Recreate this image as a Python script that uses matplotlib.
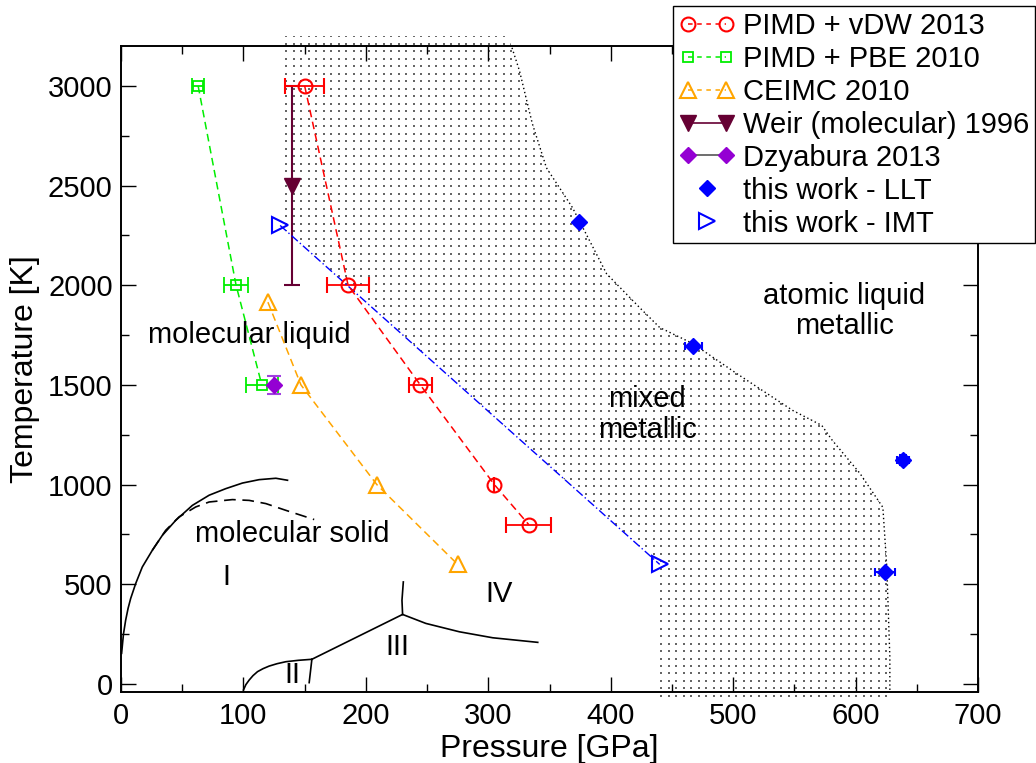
import numpy as np
import matplotlib
matplotlib.use("Agg")
import matplotlib.pyplot as plt
from matplotlib.lines import Line2D
from matplotlib.patches import Polygon
from matplotlib.legend_handler import HandlerLine2D
from matplotlib.ticker import MultipleLocator

plt.rcParams["font.family"] = ["Liberation Sans", "DejaVu Sans"]

# ---- data -------------------------------------------------------------
# PIMD + vdW 2013
vdw_p = [150, 185.5, 244.5, 305, 333]
vdw_t = [3000, 2000, 1500, 1000, 800]
vdw_perr = [16, 17, 9.5, 0, 18.5]

# PIMD + PBE 2010
pbe_p = [63, 94, 115]
pbe_t = [3000, 2000, 1500]
pbe_perr = [5, 10, 13]

# CEIMC 2010
ceimc_p = [120, 147, 209, 275]
ceimc_t = [1915, 1500, 1000, 600]

# Weir (molecular) 1996
weir_p = [140]
weir_t = [2500]
weir_terr = [500]

# Dzyabura 2013
dzy_p = [125]
dzy_t = [1500]
dzy_terr = [45]

# this work - LLT
llt_p = [374.5, 467.5, 638.5, 624]
llt_t = [2319, 1693, 1122, 561]
llt_perr = [3, 7, 5, 8]
llt_terr = [0, 0, 25, 0]

# this work - IMT
imt_p = [130, 440]
imt_t = [2300, 600]

# right edge of the mixed metallic region
bnd_p = [316, 318.9, 325.5, 336, 347.5, 368.8, 382.7, 396.6, 423.6, 440, 466.9,
         502.7, 548.7, 572.4, 581, 603.5, 622.3, 625.5, 628, 628]
bnd_t = [3250, 3200, 3075, 2810, 2589, 2389, 2224, 2058, 1888, 1788, 1708,
         1558, 1372, 1297, 1222, 1057, 886, 586, 135, -100]

# melting line (solid) and its dashed variant
melt_p = [0.5, 2.0, 3.8, 5.8, 7.9, 12, 17.4, 25.6, 33.8, 44.7, 58.3, 72, 85.6,
          99.2, 112.8, 126.5, 136]
melt_t = [154, 250, 320, 380, 429, 504, 587, 671, 746, 821, 896, 947, 980,
          1008, 1025, 1032, 1022]
melt2_p = [25.6, 36.5, 47.4, 61, 72, 91, 104.7, 118.3, 134.7, 157.8]
melt2_t = [671, 771, 838, 888, 913, 925, 921, 905, 871, 825]

# solid phase boundaries
b_II_p = [100, 102, 104.7, 107.8, 111.5, 116, 121, 127.5, 134.7, 145, 155.9]
b_II_t = [-30, -3, 20, 42, 62, 77, 90, 102, 112, 119, 124]
b_II_III_p = [155.9, 153.7]
b_II_III_t = [124, 7]
b_III_p = [155.9, 230]
b_III_t = [124, 349]
b_I_IV_p = [230, 229.5, 230.6]
b_I_IV_t = [349, 420, 512]
b_III_IV_p = [230, 249, 276.4, 303.6, 340.4]
b_III_IV_t = [349, 304, 262, 232, 209]

# ---- figure -----------------------------------------------------------
fig = plt.figure(figsize=(10.36, 7.63), dpi=100)
ax = fig.add_axes([121 / 1036, 1 - 692 / 763, (978 - 121) / 1036, (692 - 46) / 763])
ax.set_xlim(0, 700)
ax.set_ylim(-40, 3200)

# stippled mixed-metallic region
region = Polygon(
    [(130, 3250), (imt_p[0], imt_t[0]), (imt_p[1], imt_t[1]), (440, -100)]
    + list(zip(bnd_p[::-1], bnd_t[::-1])),
    closed=True, facecolor="none", edgecolor="none", transform=ax.transData)
ax.add_patch(region)
gx = np.arange(0, 700, 6.13)
gy = np.arange(-60, 3250, 37.6)
GX, GY = np.meshgrid(gx, gy)
dots = ax.scatter(GX.ravel(), GY.ravel(), s=0.6, marker="s", c="#666666",
                  linewidths=0, zorder=1)
dots.set_clip_path(region)
ax.plot(bnd_p, bnd_t, color="black", ls=(0, (1, 2)), lw=1.0, zorder=2)

# phase lines of the solid
ax.plot(melt_p, melt_t, color="black", lw=1.2, zorder=2)
ax.plot(melt2_p, melt2_t, color="black", lw=1.2, dashes=(7, 4), zorder=2)
for bp, bt in [(b_II_p, b_II_t), (b_II_III_p, b_II_III_t), (b_III_p, b_III_t),
               (b_I_IV_p, b_I_IV_t), (b_III_IV_p, b_III_IV_t)]:
    ax.plot(bp, bt, color="black", lw=1.2, zorder=2)

RED = "#ff0000"
GREEN = "#00ee00"
ORANGE = "#ffa500"
MAROON = "#660033"
PURPLE = "#9400d3"
BLUE = "#0000ff"

ax.errorbar(vdw_p, vdw_t, xerr=vdw_perr, color=RED, ls=(0, (5, 3)), lw=1.1,
            marker="o", ms=10, mfc="none", mec=RED, mew=1.5, elinewidth=1.3,
            capsize=5.5, capthick=1.3, zorder=5)
ax.errorbar(pbe_p, pbe_t, xerr=pbe_perr, color=GREEN, ls=(0, (5, 3)), lw=1.1,
            marker="s", ms=7, mfc="none", mec=GREEN, mew=1.3, elinewidth=1.3,
            capsize=5.5, capthick=1.3, zorder=5)
ax.plot(ceimc_p, ceimc_t, color=ORANGE, ls=(0, (5, 3)), lw=1.1, marker="^",
        ms=11, mfc="none", mec=ORANGE, mew=1.5, zorder=5)
ax.errorbar(weir_p, weir_t, yerr=weir_terr, color=MAROON, ls="none",
            marker="v", ms=12, elinewidth=1.5, capsize=5.5, capthick=1.5, zorder=4)
ax.errorbar(dzy_p, dzy_t, yerr=dzy_terr, color=PURPLE, ls="none",
            marker="D", ms=8, ecolor="#a040e0", elinewidth=1.5, capsize=5,
            capthick=1.5, zorder=6)
ax.plot(imt_p, imt_t, color=BLUE, ls=(0, (6, 2, 1, 2)), lw=1.0, marker=">",
        ms=11.5, mfc="none", mec=BLUE, mew=1.5, zorder=5)
ax.errorbar(llt_p, llt_t, xerr=llt_perr, yerr=llt_terr, color=BLUE, ls="none",
            marker="D", ms=8, elinewidth=1.5, capsize=3, capthick=1.5, zorder=5)

# region labels
FS = 21
ax.text(104.7, 1708, "molecular liquid", fontsize=FS, ha="center", va="baseline")
ax.text(140, 711, "molecular solid", fontsize=FS, ha="center", va="baseline")
ax.text(86, 496, "I", fontsize=FS, ha="center", va="baseline")
ax.text(140, 5, "II", fontsize=FS, ha="center", va="baseline")
ax.text(225.7, 145, "III", fontsize=FS, ha="center", va="baseline")
ax.text(309, 411, "IV", fontsize=FS, ha="center", va="baseline")
ax.text(430, 1387, "mixed", fontsize=FS, ha="center", va="baseline")
ax.text(430, 1232, "metallic", fontsize=FS, ha="center", va="baseline")
ax.text(591, 1908, "atomic liquid", fontsize=FS, ha="center", va="baseline")
ax.text(591, 1758, "metallic", fontsize=FS, ha="center", va="baseline")

# axes styling
ax.set_xticks(np.arange(0, 701, 100))
ax.set_yticks(np.arange(0, 3001, 500))
ax.xaxis.set_minor_locator(MultipleLocator(50))
ax.yaxis.set_minor_locator(MultipleLocator(250))
ax.tick_params(which="both", direction="in", top=True, right=True, width=1.0)
ax.tick_params(which="major", length=11, labelsize=FS)
ax.tick_params(which="minor", length=5.5)
ax.tick_params(axis="x", which="major", pad=7)
ax.tick_params(axis="y", which="major", pad=6)
for sp in ax.spines.values():
    sp.set_linewidth(1.4)
ax.set_xlabel("Pressure [GPa]", fontsize=23, labelpad=3)
ax.set_ylabel("Temperature [K]", fontsize=23, labelpad=6)

# legend
dash = (0, (3, 3))
h_vdw = Line2D([], [], color=RED, ls=dash, lw=1.1, marker="o", ms=10, mfc="none", mew=1.5)
h_pbe = Line2D([], [], color=GREEN, ls=dash, lw=1.1, marker="s", ms=7, mfc="none", mew=1.3)
h_cei = Line2D([], [], color=ORANGE, ls=dash, lw=1.1, marker="^", ms=11, mfc="none", mew=1.5)
h_weir = Line2D([], [], color=MAROON, lw=1.2, marker="v", ms=12)
h_dzy = Line2D([], [], color="#555555", lw=1.2, marker="D", ms=8, mfc=PURPLE, mec=PURPLE)
h_llt = Line2D([], [], color=BLUE, ls="none", marker="D", ms=8)
h_imt = Line2D([], [], color=BLUE, ls="none", marker=">", ms=11.5, mfc="none", mew=1.5)
leg = fig.legend(
    [h_vdw, h_pbe, h_cei, h_weir, h_dzy, h_llt, h_imt],
    ["PIMD + vDW 2013", "PIMD + PBE 2010", "CEIMC 2010", "Weir (molecular) 1996",
     "Dzyabura 2013", "this work - LLT", "this work - IMT"],
    loc="upper left", bbox_to_anchor=(673 / 1036, 1 - 6 / 763),
    bbox_transform=fig.transFigure, borderaxespad=0, fontsize=FS,
    numpoints=2, handlelength=1.9, handletextpad=0.3, borderpad=0.2,
    labelspacing=0.17, fancybox=False, framealpha=1, edgecolor="black",
    handler_map={h_llt: HandlerLine2D(numpoints=1), h_imt: HandlerLine2D(numpoints=1)})
leg.get_frame().set_linewidth(1.0)
leg.set_zorder(10)

fig.savefig("out.png", dpi=100)
